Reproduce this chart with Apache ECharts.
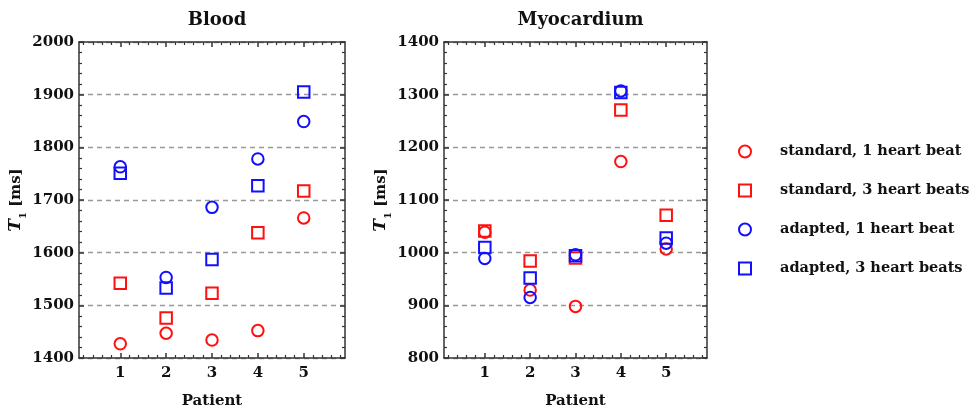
<!DOCTYPE html>
<html><head><meta charset="utf-8">
<script src="https://cdn.jsdelivr.net/npm/echarts@6/dist/echarts.min.js"></script>
<style>html,body{margin:0;padding:0;background:#fff}#c{width:974px;height:414px}</style>
</head><body><div id="c"></div><script>
// ---- data ----
const patients = [1, 2, 3, 4, 5];
const seriesNames = ['standard, 1 heart beat', 'standard, 3 heart beats', 'adapted, 1 heart beat', 'adapted, 3 heart beats'];
const panelTitles = ['Blood', 'Myocardium'];
const bloodStd1 = [1427, 1447, 1434, 1452, 1666];
const bloodStd3 = [1542, 1476, 1523, 1638, 1717];
const bloodAdp1 = [1763, 1553, 1686, 1778, 1849];
const bloodAdp3 = [1751, 1533, 1587, 1727, 1905];
const myoStd1 = [1039, 929, 898, 1173, 1007];
const myoStd3 = [1041, 984, 990, 1271, 1071];
const myoAdp1 = [989, 915, 996, 1307, 1018];
const myoAdp3 = [1010, 952, 994, 1304, 1028];
const bloodRange = [1400, 2000];
const myoRange = [800, 1400];

// ---- styling ----
const FONT = 'DejaVu Serif';
const FRAME = '#333';
const RED = '#ff1010', BLUE = '#1010ff';
const styles = [
  {symbol: 'circle', color: RED},
  {symbol: 'rect', color: RED},
  {symbol: 'circle', color: BLUE},
  {symbol: 'rect', color: BLUE}
];
const XMIN = 0.1, XMAX = 5.9;
const minorX = [];
for (let i = 1; i < 30; i++) { const v = Math.round(i * 2) / 10; if (v > XMIN && v < XMAX && Math.abs(v - Math.round(v)) > 1e-6) minorX.push(v); }

const grids = [
  {left: 79, top: 42, width: 266, height: 317},
  {left: 444, top: 42, width: 263, height: 317}
];
const lineStyle = {color: FRAME, width: 1.5};
const labelStyle = {fontFamily: FONT, fontWeight: 'bold', fontSize: 15, color: '#111'};

const xAxes = [], yAxes = [];
[bloodRange, myoRange].forEach((rng, g) => {
  xAxes.push({type: 'value', gridIndex: g, position: 'bottom', min: XMIN, max: XMAX,
    axisLine: {show: true, onZero: false, lineStyle},
    axisTick: {show: true, inside: true, length: 5, lineStyle, customValues: patients},
    axisLabel: Object.assign({show: true, margin: 8, customValues: patients, formatter: v => String(v)}, labelStyle),
    splitLine: {show: false},
    name: 'Patient', nameLocation: 'middle', nameGap: 36,
    nameTextStyle: {fontFamily: FONT, fontWeight: 'bold', fontSize: 15, color: '#111'}});
  xAxes.push({type: 'value', gridIndex: g, position: 'bottom', min: XMIN, max: XMAX,
    axisLine: {show: false, onZero: false},
    axisTick: {show: true, inside: true, length: 3, lineStyle: {color: FRAME, width: 1.2}, customValues: minorX},
    axisLabel: {show: false}, splitLine: {show: false}});
  xAxes.push({type: 'value', gridIndex: g, position: 'top', min: XMIN, max: XMAX,
    axisLine: {show: true, onZero: false, lineStyle},
    axisTick: {show: true, inside: true, length: 5, lineStyle, customValues: patients},
    axisLabel: {show: false}, splitLine: {show: false}});
  xAxes.push({type: 'value', gridIndex: g, position: 'top', min: XMIN, max: XMAX,
    axisLine: {show: false, onZero: false},
    axisTick: {show: true, inside: true, length: 3, lineStyle: {color: FRAME, width: 1.2}, customValues: minorX},
    axisLabel: {show: false}, splitLine: {show: false}});
  yAxes.push({type: 'value', gridIndex: g, position: 'left', min: rng[0], max: rng[1], interval: 100,
    axisLine: {show: true, onZero: false, lineStyle},
    axisTick: {show: true, inside: true, length: 5, lineStyle},
    minorTick: {show: true, splitNumber: 5, length: 3, lineStyle: {color: FRAME, width: 1.2}},
    axisLabel: Object.assign({margin: 5, formatter: v => String(v)}, labelStyle),
    splitLine: {show: true, lineStyle: {color: '#999', width: 1.3, type: [5, 4]}},
    name: '{t|T}{s|1} [ms]', nameLocation: 'middle', nameGap: 46, nameRotate: 90,
    nameTextStyle: {fontFamily: FONT, fontWeight: 'bold', fontSize: 15, color: '#111',
      rich: {
        t: {fontFamily: FONT, fontWeight: 'bold', fontStyle: 'italic', fontSize: 17, color: '#111'},
        s: {fontFamily: FONT, fontWeight: 'bold', fontSize: 10, color: '#111', verticalAlign: 'bottom', padding: [0, 0, -4, 0]}
      }}});
  yAxes.push({type: 'value', gridIndex: g, position: 'right', min: rng[0], max: rng[1], interval: 100,
    axisLine: {show: true, onZero: false, lineStyle},
    axisTick: {show: true, inside: true, length: 5, lineStyle},
    minorTick: {show: true, splitNumber: 5, length: 3, lineStyle: {color: FRAME, width: 1.2}},
    axisLabel: {show: false}, splitLine: {show: false}});
});

const panels = [[bloodStd1, bloodStd3, bloodAdp1, bloodAdp3], [myoStd1, myoStd3, myoAdp1, myoAdp3]];
const series = [];
panels.forEach((sets, g) => {
  sets.forEach((vals, k) => {
    series.push({
      type: 'scatter', name: seriesNames[k], xAxisIndex: g * 4, yAxisIndex: g * 2,
      symbol: styles[k].symbol, symbolSize: 11.5,
      itemStyle: {color: 'rgba(255,255,255,0)', borderColor: styles[k].color, borderWidth: 2, opacity: 1},
      emphasis: {disabled: true},
      data: patients.map((p, i) => [p, vals[i]])
    });
  });
});

const chart = echarts.init(document.getElementById('c'), null, {renderer: 'canvas'});
chart.setOption({
  animation: false,
  backgroundColor: '#fff',
  title: panelTitles.map((t, g) => ({
    text: t, left: grids[g].left + grids[g].width / 2, top: 6, textAlign: 'center',
    textStyle: {fontFamily: FONT, fontWeight: 'bold', fontSize: 18, color: '#111'}
  })),
  grid: grids,
  xAxis: xAxes,
  yAxis: yAxes,
  legend: {
    data: seriesNames.map((n, k) => ({name: n, icon: styles[k].symbol,
      itemStyle: {color: 'rgba(255,255,255,0)', borderColor: styles[k].color, borderWidth: 2}})),
    orient: 'vertical', left: 733, top: 139, itemWidth: 12, itemHeight: 12, itemGap: 24,
    selectedMode: false,
    textStyle: {fontFamily: FONT, fontWeight: 'bold', fontSize: 14.5, color: '#111', padding: [0, 0, 0, 24]}
  },
  series
});
</script></body></html>
